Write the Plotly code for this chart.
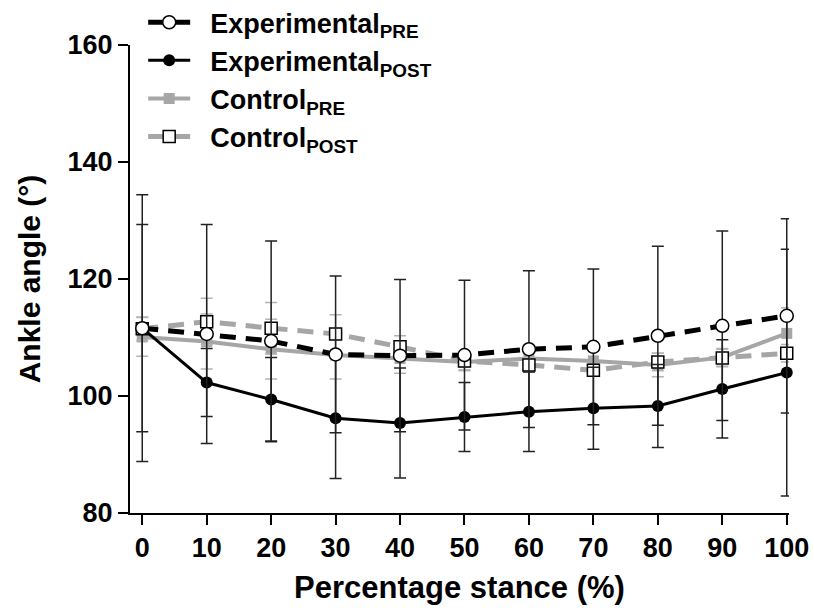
import plotly.graph_objects as go

stance = [0, 10, 20, 30, 40, 50, 60, 70, 80, 90, 100]

exp_pre = [111.6, 110.6, 109.4, 107.1, 106.9, 107.0, 108.0, 108.4, 110.3, 112.0, 113.7]
exp_pre_sd = [22.8, 18.7, 17.1, 13.4, 13.0, 12.8, 13.4, 13.3, 15.3, 16.2, 16.6]

exp_post = [111.6, 102.3, 99.4, 96.2, 95.4, 96.4, 97.3, 97.9, 98.3, 101.2, 104.0]
exp_post_sd = [17.7, 5.8, 7.2, 10.3, 9.4, 5.9, 6.8, 7.0, 7.1, 8.4, 21.1]

ctl_pre = [110.1, 109.3, 108.0, 107.0, 106.4, 105.8, 106.4, 106.0, 105.3, 106.6, 110.7]
ctl_pre_sd = [3.3, 4.7, 5.1, 4.1, 2.5, 1.5, 1.5, 2.0, 2.0, 1.5, 4.4]

ctl_post = [111.5, 112.7, 111.6, 110.6, 108.4, 106.0, 105.3, 104.4, 105.8, 106.5, 107.3]
ctl_post_sd = [2.0, 4.0, 4.4, 3.3, 1.9, 1.5, 1.2, 1.0, 1.5, 1.5, 1.5]

x_ticks = [0, 10, 20, 30, 40, 50, 60, 70, 80, 90, 100]
y_ticks = [80, 100, 120, 140, 160]

GREY = "#a6a6a6"
EGREY = "#b4b4b4"
SP = "\u00a0\u00a0"

fig = go.Figure()

fig.add_trace(go.Scatter(
    x=stance, y=ctl_pre, mode="lines+markers", name=SP + "Control<sub>PRE</sub>",
    line=dict(color=GREY, width=4),
    marker=dict(symbol="square", size=11, color=GREY),
    error_y=dict(type="data", array=ctl_pre_sd, color=EGREY, thickness=1.5, width=6),
    cliponaxis=False, legendrank=3,
))
fig.add_trace(go.Scatter(
    x=stance, y=ctl_post, mode="lines+markers", name=SP + "Control<sub>POST</sub>",
    line=dict(color=GREY, width=5, dash="16px,10px"),
    marker=dict(symbol="square", size=12, color="white", line=dict(color="black", width=1.5)),
    error_y=dict(type="data", array=ctl_post_sd, color=EGREY, thickness=1.5, width=6),
    cliponaxis=False, legendrank=4,
))
fig.add_trace(go.Scatter(
    x=stance, y=exp_post, mode="lines+markers", name=SP + "Experimental<sub>POST</sub>",
    line=dict(color="black", width=3),
    marker=dict(symbol="circle", size=12, color="black"),
    error_y=dict(type="data", array=exp_post_sd, color="#222222", thickness=1.5, width=6),
    cliponaxis=False, legendrank=2,
))
fig.add_trace(go.Scatter(
    x=stance, y=exp_pre, mode="lines+markers", name=SP + "Experimental<sub>PRE</sub>",
    line=dict(color="black", width=5, dash="16px,10px"),
    marker=dict(symbol="circle", size=13, color="white", line=dict(color="black", width=1.5)),
    error_y=dict(type="data", array=exp_pre_sd, color="#222222", thickness=1.5, width=6),
    cliponaxis=False, legendrank=1,
))

FONT = "Liberation Sans, Arial, sans-serif"

fig.update_layout(
    width=814, height=612,
    margin=dict(l=130, r=25, t=45, b=99, autoexpand=False),
    paper_bgcolor="white", plot_bgcolor="white",
    font=dict(family=FONT, color="black"),
    showlegend=True,
    legend=dict(
        x=0.02, y=1.10, xanchor="left", yanchor="top",
        font=dict(family=FONT, size=27, color="black", weight="bold"),
        bgcolor="rgba(0,0,0,0)", itemwidth=42, tracegroupgap=0,
    ),
    xaxis=dict(
        range=[-1.9, 100.35], tickvals=x_ticks, ticktext=[str(v) for v in x_ticks],
        showgrid=False, zeroline=False, showline=True, linecolor="black", linewidth=2,
        ticks="outside", ticklen=10, tickwidth=2, tickcolor="black",
        tickfont=dict(family=FONT, size=27, color="black", weight="bold"),
        title=dict(text="<b>Percentage stance (%)</b>", font=dict(family=FONT, size=31, color="black"), standoff=14),
    ),
    yaxis=dict(
        range=[80, 160], tickvals=y_ticks, ticktext=[str(v) for v in y_ticks],
        showgrid=False, zeroline=False, showline=True, linecolor="black", linewidth=2,
        ticks="outside", ticklen=10, tickwidth=2, tickcolor="black",
        tickfont=dict(family=FONT, size=27, color="black", weight="bold"),
        title=dict(text="<b>Ankle angle (°)</b>", font=dict(family=FONT, size=30, color="black"), standoff=18),
    ),
)

fig.write_html("out.html")
